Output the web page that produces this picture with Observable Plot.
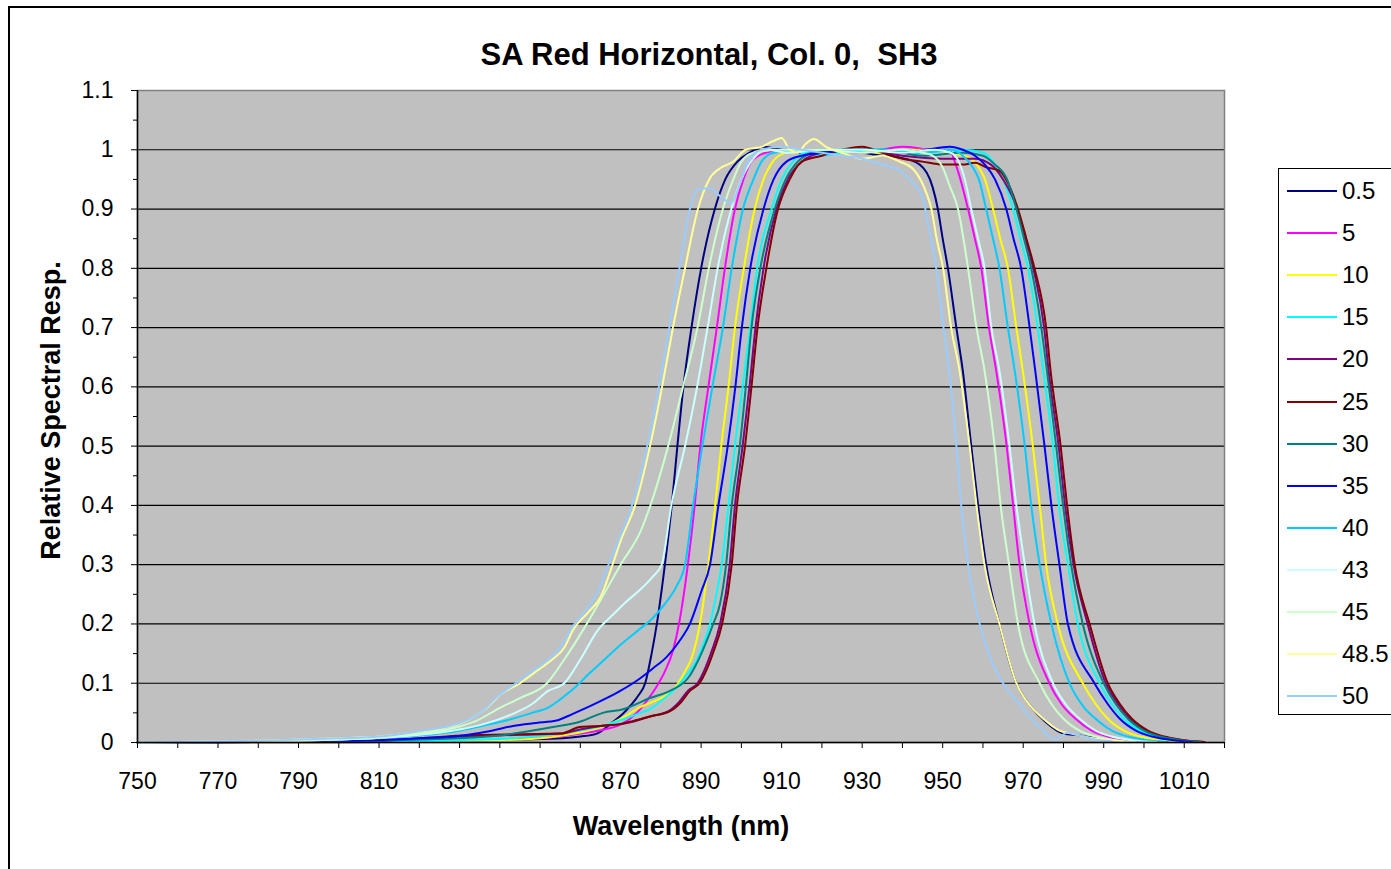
<!DOCTYPE html>
<html>
<head>
<meta charset="utf-8">
<script src="https://cdn.jsdelivr.net/npm/d3@7"></script>
<script src="https://cdn.jsdelivr.net/npm/@observablehq/plot@0.6"></script>
<style>
  html, body { margin: 0; padding: 0; background: #fff; overflow: hidden; }
  body { width: 1391px; height: 869px; position: relative; font-family: "Liberation Sans", Arial, sans-serif; }
  #chart { position: absolute; left: 0; top: 0; }
  #chart svg text { white-space: pre; }
  #frame { position: absolute; left: 8px; top: 6px; width: 1500px; height: 1000px; border-left: 2px solid #000; border-top: 2px solid #000; box-sizing: border-box; pointer-events: none; }
  #legend { position: absolute; left: 1278px; top: 168px; width: 140px; height: 547px; border: 1px solid #000; background: #fff; box-sizing: border-box; }
  .entry { position: absolute; left: 0; height: 30px; width: 140px; }
  .swatch { position: absolute; left: 8px; width: 50px; height: 2px; top: 14px; }
  .lab { position: absolute; left: 63px; top: 0; font-size: 24px; line-height: 30px; color: #000; white-space: pre; }
</style>
</head>
<body>
<div id="chart"></div>
<div id="frame"></div>
<div id="legend"></div>
<script>
// ---- series names and colours ----
const seriesNames = ["0.5","5","10","15","20","25","30","35","40","43","45","48.5","50"];
const seriesColors = ["#000080","#FF00FF","#FFFF00","#00FFFF","#800080","#800000","#008080","#0000FF","#00CCFF","#CCFFFF","#CCFFCC","#FFFF99","#99CCFF"];

// ---- tick values ----
const yTicks = [0, 0.1, 0.2, 0.3, 0.4, 0.5, 0.6, 0.7, 0.8, 0.9, 1, 1.1];
const yTickLabels = ["0","0.1","0.2","0.3","0.4","0.5","0.6","0.7","0.8","0.9","1","1.1"];
const yMinorTicks = [0.05, 0.15, 0.25, 0.35, 0.45, 0.55, 0.65, 0.75, 0.85, 0.95, 1.05];
const gridTicks = [0.1, 0.2, 0.3, 0.4, 0.5, 0.6, 0.7, 0.8, 0.9, 1];
const xTicks = [750,760,770,780,790,800,810,820,830,840,850,860,870,880,890,900,910,920,930,940,950,960,970,980,990,1000,1010,1020];
const xLabelTicks = [750,770,790,810,830,850,870,890,910,930,950,970,990,1010];

// ---- series values: [wavelength nm, relative response] ----
const s_0_5 = [[750,0],[790,0.001],[810,0.002],[830,0.003],[845,0.005],[855.7,0.007],[860,0.01],[864.1,0.015],[868.1,0.035],[870.5,0.048],[872.4,0.062],[874.5,0.08],[876.1,0.1],[877.7,0.15],[879,0.2],[881,0.3],[882.7,0.4],[884.1,0.5],[885.6,0.6],[887.6,0.7],[890,0.8],[893.4,0.9],[896,0.95],[899,0.98],[902,0.995],[905.4,1.005],[910,1.0],[915,0.995],[920,1.0],[930,0.995],[935,0.99],[939.3,0.987],[944.3,0.975],[947.5,0.937],[948.8,0.9],[950,0.85],[951.3,0.8],[953.4,0.7],[955,0.627],[957.1,0.5],[958.8,0.4],[960.8,0.3],[964.1,0.2],[968.3,0.1],[972,0.06],[975.5,0.035],[980,0.015],[984,0.012],[990,0.005],[1000,0.002]];
const s_5 = [[750,0],[790,0],[810,0.001],[830,0.003],[845,0.006],[852,0.008],[860,0.015],[866,0.022],[870,0.03],[874,0.05],[877,0.075],[879,0.095],[881,0.12],[883,0.155],[884.5,0.2],[886.7,0.3],[888.4,0.4],[889.8,0.5],[891.8,0.6],[893.9,0.7],[895.9,0.8],[898.4,0.9],[900.5,0.95],[902.5,0.98],[906,0.995],[910,1.0],[920,1.0],[930,0.995],[940,1.005],[948,1.0],[951.7,1.0],[953,0.98],[954.2,0.955],[956.3,0.9],[958,0.85],[959.6,0.8],[961.5,0.7],[963.3,0.627],[965.9,0.5],[967.5,0.4],[969.1,0.3],[971.6,0.2],[976.5,0.1],[979.5,0.065],[983,0.04],[987,0.02],[991,0.01],[996,0.004],[1002,0.001]];
const s_10 = [[750,0],[790,0],[810,0.001],[830,0.003],[845,0.005],[850,0.007],[856,0.012],[862,0.02],[866,0.028],[870,0.04],[875,0.06],[880,0.075],[883,0.088],[886,0.12],[887.5,0.14],[889.7,0.2],[891.8,0.3],[893.5,0.4],[895,0.5],[896.8,0.6],[898.4,0.7],[900.6,0.8],[903.3,0.9],[905.5,0.95],[907.8,0.98],[911,0.995],[915,1.0],[925,1.0],[935,0.995],[945,1.0],[952,0.995],[955,0.99],[957,0.985],[959,0.97],[960.5,0.95],[962.5,0.9],[964.3,0.85],[966.2,0.8],[968.3,0.7],[969.9,0.627],[972.4,0.5],[974.1,0.4],[975.7,0.3],[978.6,0.2],[984.8,0.1],[988,0.065],[991,0.04],[995,0.02],[999,0.01],[1004,0.004],[1009,0.001]];
const s_15 = [[750,0],[790,0.001],[810,0.002],[830,0.004],[845,0.008],[855,0.015],[865.6,0.028],[871,0.04],[875,0.05],[877.5,0.057],[880,0.07],[883.9,0.093],[886.5,0.115],[888.9,0.139],[890.5,0.165],[892.2,0.2],[893.8,0.25],[895.1,0.3],[896.8,0.4],[898.4,0.5],[900.3,0.6],[902.2,0.7],[903.9,0.8],[907.5,0.9],[910,0.95],[912.8,0.98],[916,0.995],[920,0.99],[925,0.995],[935,1.0],[945,0.995],[955,1.0],[960,0.995],[962.5,0.98],[965,0.95],[967.5,0.9],[969.3,0.85],[971.2,0.8],[973.6,0.7],[975,0.627],[977.4,0.5],[978.9,0.4],[981.1,0.3],[983.6,0.2],[989,0.1],[992,0.065],[995,0.04],[999,0.02],[1003,0.01],[1008,0.004],[1013,0.001]];
const s_20 = [[750,0],[790,0.001],[810,0.003],[831,0.01],[845,0.013],[855,0.015],[859.9,0.022],[865,0.028],[869.9,0.031],[873,0.035],[877.3,0.044],[881.9,0.053],[884.5,0.068],[886.7,0.087],[889.1,0.1],[891,0.125],[892.4,0.15],[894.7,0.2],[897.1,0.3],[898.4,0.4],[900.3,0.5],[902,0.6],[903.5,0.7],[905.5,0.8],[908.7,0.9],[911.5,0.95],[915,0.98],[920,0.995],[930,1.0],[940,0.99],[950,0.985],[958,0.985],[962,0.975],[965,0.95],[968.5,0.9],[970.5,0.85],[972.5,0.8],[975.2,0.7],[976.3,0.627],[978.8,0.5],[980.4,0.4],[982.5,0.3],[986,0.2],[990.5,0.1],[993.5,0.065],[996.5,0.04],[1000.5,0.02],[1004.5,0.01],[1009.5,0.004],[1015,0.001]];
const s_25 = [[750,0],[790,0.001],[810,0.003],[831,0.012],[845,0.014],[855,0.015],[859.9,0.026],[865,0.028],[869.9,0.031],[873,0.036],[877.3,0.044],[882.3,0.053],[885,0.068],[887.2,0.087],[889.6,0.1],[891.5,0.125],[892.9,0.15],[895.2,0.2],[897.6,0.3],[898.9,0.4],[900.9,0.5],[902.5,0.6],[904,0.7],[906.2,0.8],[909.1,0.9],[912,0.95],[915,0.98],[920,0.99],[925,1.0],[930,1.005],[935,0.995],[940,0.985],[945,0.98],[950,0.975],[955,0.975],[958,0.978],[961,0.97],[964,0.965],[966.5,0.94],[968.7,0.9],[970.8,0.85],[972.8,0.8],[975.7,0.7],[976.8,0.627],[979.3,0.5],[980.9,0.4],[982.8,0.3],[986.5,0.2],[991,0.1],[994,0.065],[997,0.04],[1001,0.02],[1005,0.01],[1010,0.004],[1015,0.001]];
const s_30 = [[750,0],[790,0.001],[810,0.003],[820,0.005],[840,0.012],[853.2,0.026],[859.9,0.035],[865.6,0.05],[870.6,0.056],[877.3,0.075],[882.5,0.088],[886.9,0.11],[889,0.135],[891.1,0.167],[893,0.2],[894.7,0.234],[896.2,0.3],[897.6,0.4],[899.6,0.5],[901.1,0.6],[902.5,0.7],[904.7,0.8],[908.3,0.9],[911,0.95],[914,0.98],[918,0.995],[925,1.0],[935,1.0],[945,0.99],[955,0.995],[960,0.99],[963,0.975],[966,0.95],[968.3,0.9],[970.2,0.85],[972,0.8],[974.5,0.7],[975.9,0.627],[978.2,0.5],[979.9,0.4],[981.9,0.3],[984.8,0.2],[990,0.1],[993,0.065],[996,0.04],[1000,0.02],[1004,0.01],[1009,0.004],[1014,0.001]];
const s_35 = [[750,0],[790,0.001],[810,0.004],[820,0.007],[830.9,0.012],[838,0.02],[843.3,0.028],[849,0.033],[854.1,0.037],[858,0.048],[862,0.06],[866,0.073],[869.9,0.087],[874.8,0.108],[878,0.125],[881.4,0.144],[884.5,0.17],[887.2,0.2],[890.1,0.256],[892.2,0.3],[894.3,0.4],[896.6,0.5],[898.5,0.6],[900.1,0.7],[902.2,0.8],[905.5,0.9],[908,0.95],[911.2,0.98],[915,0.99],[920,0.995],[930,1.0],[940,0.995],[946,1.0],[951.7,1.005],[955,1.0],[958,0.99],[960.5,0.975],[963,0.95],[965.8,0.9],[967.6,0.85],[969.5,0.8],[971.6,0.7],[973,0.627],[975.3,0.5],[977,0.4],[979,0.3],[981.1,0.2],[987.7,0.1],[991,0.065],[994,0.04],[998,0.02],[1002,0.01],[1007,0.004],[1012,0.001]];
const s_40 = [[750,0],[770,0.001],[790,0.003],[800,0.005],[810,0.008],[820,0.012],[830,0.02],[835.5,0.028],[842,0.038],[848,0.05],[852,0.059],[856,0.078],[859,0.095],[862,0.115],[866,0.14],[870,0.165],[874.5,0.19],[878,0.21],[881,0.234],[884,0.265],[886,0.3],[888,0.4],[890.3,0.5],[892.8,0.6],[895.4,0.7],[897.6,0.8],[900.4,0.9],[903,0.95],[905,0.98],[908,0.995],[915,1.0],[925,1.0],[935,1.0],[945,0.995],[952,1.0],[955,0.99],[957.5,0.97],[959,0.95],[960.8,0.9],[962.5,0.85],[964.1,0.8],[966.2,0.7],[967.9,0.627],[970.4,0.5],[972,0.4],[974.1,0.3],[977,0.2],[981.5,0.1],[985,0.06],[988,0.04],[992,0.02],[996,0.01],[1001,0.004],[1006,0.001]];
const s_43 = [[750,0],[770,0.001],[790,0.003],[800,0.005],[810,0.008],[820,0.013],[830,0.022],[836,0.031],[842,0.045],[848,0.065],[852,0.087],[856,0.1],[860,0.14],[864.4,0.19],[868,0.215],[871,0.235],[875.5,0.262],[878,0.28],[880.2,0.3],[882.6,0.4],[886,0.5],[889,0.6],[891.6,0.7],[894.1,0.8],[897.5,0.9],[900,0.95],[903,0.985],[906,1.0],[912,0.995],[920,1.0],[930,1.0],[940,0.995],[948,1.0],[952,0.995],[954,0.98],[955.5,0.95],[957.1,0.9],[958.8,0.85],[960.4,0.8],[962.1,0.7],[964.1,0.627],[966.6,0.5],[968.3,0.4],[970.4,0.3],[972.8,0.2],[977.4,0.1],[980.5,0.065],[984,0.04],[988,0.02],[992,0.01],[997,0.004],[1003,0.001]];
const s_45 = [[750,0],[770,0.001],[790,0.003],[800,0.005],[810,0.008],[820,0.015],[830,0.027],[834.3,0.037],[839.3,0.056],[845,0.075],[851.7,0.1],[856,0.14],[860.7,0.19],[865,0.24],[870,0.3],[875,0.357],[877.4,0.4],[881.8,0.5],[885.5,0.6],[889.1,0.7],[891.9,0.8],[895.4,0.9],[898,0.95],[900,0.98],[903,0.995],[910,1.0],[920,1.0],[930,0.995],[940,1.0],[945,0.995],[947.5,0.99],[950,0.97],[951.7,0.94],[953.8,0.9],[956.3,0.8],[958.4,0.7],[960.4,0.627],[962.9,0.5],[964.4,0.4],[966.5,0.3],[968.7,0.2],[974.1,0.1],[977,0.065],[980,0.04],[984,0.02],[988,0.01],[993,0.004],[998,0.001]];
const s_48_5 = [[750,0],[760,0.001],[770,0.002],[780,0.003],[790,0.005],[800,0.007],[810,0.01],[820,0.018],[830,0.032],[834,0.045],[837,0.06],[840,0.08],[845,0.1],[849,0.12],[853,0.14],[856,0.16],[858.2,0.19],[862,0.22],[865,0.245],[868,0.3],[870,0.34],[873.6,0.4],[877.3,0.5],[880.3,0.6],[883,0.7],[886,0.8],[889.2,0.9],[892,0.95],[895,0.97],[898,0.98],[901,1.0],[905,1.005],[908,1.015],[910,1.02],[912,1.0],[914,0.995],[916,1.01],[918,1.018],[921,1.005],[925,0.995],[930,0.985],[935,0.99],[939.3,0.98],[942.6,0.968],[946,0.926],[947.2,0.9],[948.5,0.85],[950.1,0.8],[952.1,0.7],[954.2,0.627],[956.7,0.5],[958.4,0.4],[960.4,0.3],[964.1,0.2],[968.3,0.1],[972,0.06],[975,0.04],[979,0.02],[982,0.015],[985,0.01],[990,0.005],[995,0.002]];
const s_50 = [[750,0],[760,0.001],[770,0.002],[780,0.003],[790,0.005],[800,0.007],[810,0.01],[820,0.019],[830,0.033],[834,0.045],[836,0.055],[839,0.075],[844,0.1],[848,0.12],[852,0.14],[855,0.16],[857.5,0.19],[861,0.22],[864,0.25],[867,0.3],[870,0.35],[872.8,0.4],[876.6,0.5],[879.5,0.6],[882.1,0.7],[884.6,0.8],[887.2,0.9],[889,0.933],[892,0.935],[895,0.92],[897.5,0.91],[899.5,0.94],[902,0.985],[905,1.0],[910,1.005],[915,1.0],[920,0.995],[925,0.99],[930,0.985],[935,0.975],[939.3,0.965],[942,0.948],[945,0.92],[946.5,0.87],[948.4,0.8],[950.2,0.7],[951.6,0.627],[953.4,0.5],[954.6,0.4],[956.3,0.3],[959.2,0.2],[962,0.14],[965,0.1],[968.7,0.068],[972,0.04],[975,0.02],[978,0.005],[981,0.017],[984,0.012],[988,0.005],[992,0.002]];

const seriesPoints = [s_0_5, s_5, s_10, s_15, s_20, s_25, s_30, s_35, s_40, s_43, s_45, s_48_5, s_50];

const rows = seriesNames.flatMap((name, i) => seriesPoints[i].map(([wl, v]) => ({series: name, wl, v})));

const chart = Plot.plot({
  width: 1391,
  height: 869,
  marginLeft: 137,
  marginRight: 167,
  marginTop: 90,
  marginBottom: 127,
  style: {fontFamily: "'Liberation Sans', Arial, sans-serif", fontSize: "23px", color: "#000", background: "transparent", overflow: "visible"},
  x: {domain: [750, 1020]},
  y: {domain: [0, 1.1]},
  color: {domain: seriesNames, range: seriesColors},
  marks: [
    Plot.frame({fill: "#c0c0c0", stroke: null}),
    Plot.gridY({ticks: gridTicks, stroke: "#000", strokeOpacity: 1, strokeWidth: 1.2}),
    Plot.line(rows, {x: "wl", y: "v", z: "series", stroke: "series", strokeWidth: 2, curve: "monotone-x"}),
    Plot.frame({stroke: "#808080", strokeWidth: 1.5}),
    Plot.ruleX([750], {stroke: "#000", strokeWidth: 1.5}),
    Plot.ruleY([0], {stroke: "#000", strokeWidth: 1.5}),
    Plot.axisY({ticks: yTicks, tickSize: 6, tickPadding: 18, tickFormat: (d, i) => yTickLabels[i], label: null}),
    Plot.axisY({ticks: yMinorTicks, tickSize: 4, tickFormat: () => "", label: null}),
    Plot.axisX({ticks: xTicks, tickSize: 6, tickFormat: () => "", label: null}),
    Plot.axisX({ticks: xLabelTicks, tickSize: 0, tickPadding: 30, tickFormat: d => String(d), label: null}),
    Plot.text(["SA Red Horizontal, Col. 0,  SH3"], {text: d => d, frameAnchor: "top", dx: 28, dy: -35, fontWeight: "bold", fontSize: 31, lineAnchor: "middle"}),
    Plot.text(["Wavelength (nm)"], {text: d => d, frameAnchor: "bottom", dy: 84, fontWeight: "bold", fontSize: 27, lineAnchor: "middle"}),
    Plot.text(["Relative Spectral Resp."], {text: d => d, frameAnchor: "left", dx: -86, dy: -6, rotate: -90, textAnchor: "middle", fontWeight: "bold", fontSize: 27, lineAnchor: "middle"})
  ]
});
document.getElementById("chart").appendChild(chart);

// legend
const legend = document.getElementById("legend");
seriesNames.forEach((name, i) => {
  const e = document.createElement("div");
  e.className = "entry";
  e.style.top = (22 + 42.1 * i - 15) + "px";
  const sw = document.createElement("div");
  sw.className = "swatch";
  sw.style.background = seriesColors[i];
  const lb = document.createElement("div");
  lb.className = "lab";
  lb.textContent = name;
  e.appendChild(sw);
  e.appendChild(lb);
  legend.appendChild(e);
});
</script>
</body>
</html>
